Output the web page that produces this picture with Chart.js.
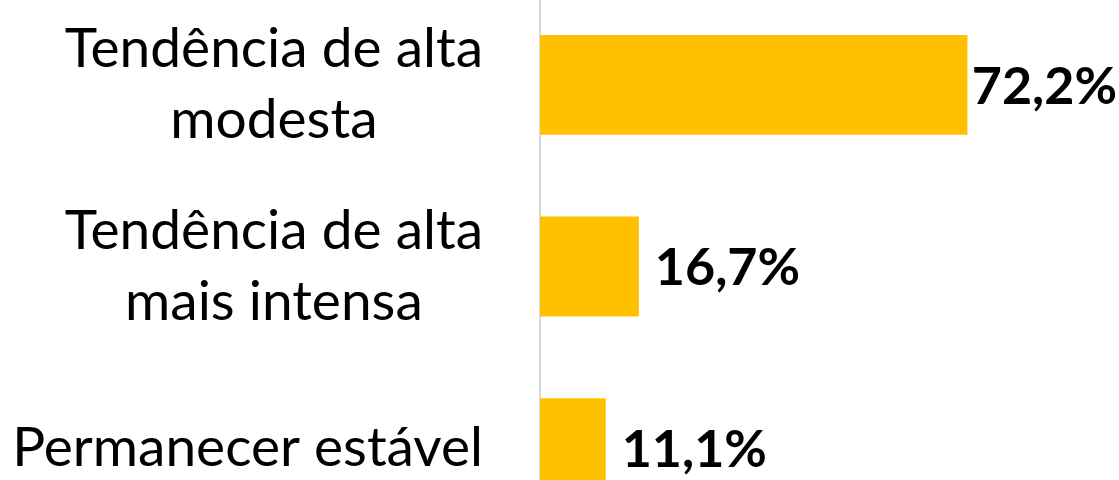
<!DOCTYPE html>
<html lang="pt">
<head>
  <meta charset="UTF-8" />
  <title>Tendência</title>
  <script src="https://cdn.jsdelivr.net/npm/chart.js"></script>
  <style>
    body {
      margin: 0;
      background: #fff;
      overflow: hidden;
      width: 1119px;
      height: 480px;
    }
    #wrap {
      position: absolute;
      left: 0;
      top: -6px;
      width: 1135px;
      height: 545px;
    }
  </style>
</head>
<body>
  <div id="wrap"><canvas id="chart"></canvas></div>
  <script>
    const categories = [
      ['Tendência de alta', 'modesta'],
      ['Tendência de alta', 'mais intensa'],
      ['Permanecer estável']
    ];
    const values = [72.2, 16.7, 11.1];

    const FONT = 'Lato, "Open Sans", sans-serif';

    // category labels: block right-aligned, lines centred inside the block
    const catLabels = {
      id: 'catLabels',
      afterDraw(chart) {
        const ctx = chart.ctx;
        const y = chart.scales.y;
        const right = chart.chartArea.left - 57;
        ctx.save();
        ctx.font = '55px ' + FONT;
        ctx.fillStyle = '#000';
        ctx.textAlign = 'center';
        ctx.textBaseline = 'alphabetic';
        categories.forEach((lines, i) => {
          const w = Math.max(...lines.map(l => ctx.measureText(l).width));
          const cx = right - w / 2;
          const cy = y.getPixelForTick(i);
          lines.forEach((l, j) => {
            ctx.fillText(l, cx, cy + (j - (lines.length - 1) / 2) * 71 + 18);
          });
        });
        ctx.restore();
      }
    };

    // value labels to the right of each bar
    const valueLabels = {
      id: 'valueLabels',
      afterDatasetsDraw(chart) {
        const ctx = chart.ctx;
        const meta = chart.getDatasetMeta(0);
        ctx.save();
        ctx.font = 'bold 52px ' + FONT;
        ctx.fillStyle = '#000';
        ctx.textAlign = 'left';
        ctx.textBaseline = 'middle';
        meta.data.forEach((bar, i) => {
          const txt = values[i].toFixed(1).replace('.', ',') + '%';
          const w = ctx.measureText(txt).width;
          const x = Math.max(bar.x + 4, Math.min(bar.x + 16, 1117 - w));
          ctx.fillText(txt, x, bar.y + 2);
        });
        ctx.restore();
      }
    };

    new Chart(document.getElementById('chart'), {
      type: 'bar',
      data: {
        labels: categories,
        datasets: [{
          data: values,
          backgroundColor: '#FFC000',
          borderWidth: 0,
          barPercentage: 0.55,
          categoryPercentage: 1
        }]
      },
      options: {
        indexAxis: 'y',
        responsive: true,
        maintainAspectRatio: false,
        animation: false,
        layout: { padding: { left: 0, right: 3, top: 0, bottom: 0 } },
        plugins: {
          legend: { display: false },
          tooltip: { enabled: false }
        },
        scales: {
          x: { display: false, min: 0, max: 100 },
          y: {
            z: 1,
            grid: { display: false },
            border: { display: true, color: '#d9d9d9', width: 2 },
            ticks: { display: false },
            afterFit(scale) { scale.width = 540; }
          }
        }
      },
      plugins: [catLabels, valueLabels]
    });
  </script>
</body>
</html>
